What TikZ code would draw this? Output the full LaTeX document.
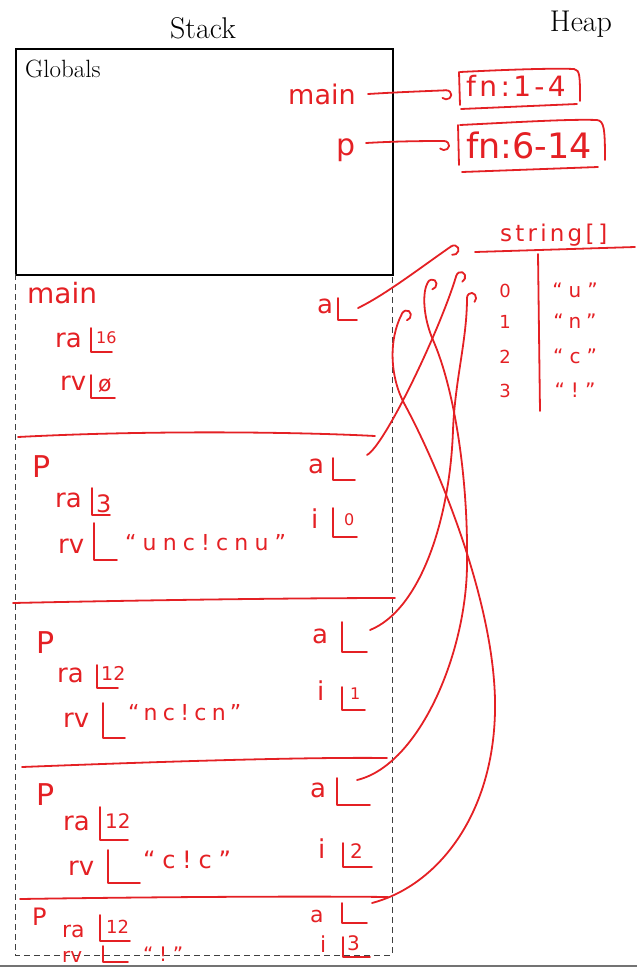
\documentclass[tikz,border=0pt]{standalone}
\usepackage{fontspec}
\newfontfamily\hand{DejaVu Sans}
\usetikzlibrary{arrows.meta}
\definecolor{hred}{RGB}{228,32,36}
\newcommand\hsz[1]{\fontsize{#1}{#1}\selectfont}
\newcommand\hsp[1]{\addfontfeature{LetterSpace=#1}}
\newcommand\slotL[4]{\draw[hand] (#1,#2) -- (#1,#3) -- (#4,#3);}
\tikzset{
  hand/.style={draw=hred, line width=1.8pt, line cap=round, line join=round},
  ht/.style={text=hred, font=\hand, inner sep=0pt, anchor=base west},
  conn/.style={hand, -{Hooks[right, arc=230, length=6pt, width=20pt, round]}},
  btxt/.style={inner sep=0pt, text=black},
}
\begin{document}
\begin{tikzpicture}[x=1pt,y=-1pt]
\useasboundingbox (0,0) rectangle (637,967);
\begin{scope}
\clip (0,0) rectangle (637,965);
% ---- black frame
\node[btxt, anchor=base] (stack) at (203,38) {\fontsize{30}{36}\selectfont Stack};
\node[btxt, anchor=base] (heap) at (581,31) {\fontsize{30}{36}\selectfont Heap};
\node[draw, line width=1.6pt, minimum width=377pt, minimum height=226pt, anchor=north west, inner sep=0pt] (globals) at (15,48) {};
\node[btxt, anchor=base west] (glab) at (25,77) {\fontsize{25}{30}\selectfont Globals};
\draw[black!75, line width=0.9pt, dash pattern=on 6pt off 4pt] (15,274) -- (15,955) -- (392,955) -- (392,274);

% ---- globals content
\node[ht] (gmain) at (288,104) {\hsz{27}main};
\node[ht] (gp) at (336,155) {\hsz{30}p};
\node[ht] (fn1) at (466,96) {\hsz{28}\hsp{12}fn:1-4};
\node[ht] (fn2) at (466,158) {\hsz{35}fn:6-14};
\coordinate (gmainE) at (368,94);
\coordinate (fn1W) at (452,90);
\coordinate (gpE) at (366,143);
\coordinate (fn2W) at (450,141);
\draw[conn] (gmainE) .. controls (400,92) and (430,91) .. (fn1W);
\draw[conn] (gpE) .. controls (400,141) and (430,141) .. (fn2W);
% boxes
\draw[hand] (459,72) -- (460,105);
\draw[hand] (460,72) .. controls (500,70) and (550,68) .. (574,69) .. controls (580,70) and (580,76) .. (580,101);
\draw[hand] (461,109) -- (577,104);
\draw[hand] (458,125) -- (459,165);
\draw[hand] (460,125) .. controls (520,122) and (570,119) .. (597,120) .. controls (604,121) and (605,128) .. (605,160);
\draw[hand] (462,172) -- (598,167);

% ---- heap array
\node[ht] (strarr) at (500,241) {\hsz{23}\hsp{14}string[\,]};
\draw[hand] (475,252) -- (635,247);
\draw[hand] (538,254) -- (540,411);
\node[ht, anchor=base] (i0) at (505,297) {\hsz{18}0};
\node[ht, anchor=base] (i1) at (505,328) {\hsz{18}1};
\node[ht, anchor=base] (i2) at (505,363) {\hsz{18}2};
\node[ht, anchor=base] (i3) at (505,397) {\hsz{18}3};
\node[ht, anchor=base] (v0) at (575,297) {\hsz{20}\hsp{30}“u”};
\node[ht, anchor=base] (v1) at (575,328) {\hsz{20}\hsp{30}“n”};
\node[ht, anchor=base] (v2) at (575,363) {\hsz{20}\hsp{30}“c”};
\node[ht, anchor=base] (v3) at (575,397) {\hsz{20}\hsp{30}“!”};
\coordinate (arr) at (456,243);
\coordinate (arr1) at (458,270);
\coordinate (arr2) at (467,292);
\coordinate (arr3) at (431,277);
\coordinate (arr4) at (405,308);

% ---- frame main
\node[ht] (fmain) at (27,303) {\hsz{28}main};
\node[ht] (ma) at (317,313) {\hsz{26}a};
\slotL{338}{298}{320}{357}
\node[ht] (mra) at (55,347) {\hsz{26}ra};
\slotL{91}{328}{352}{112}
\node[ht] (mrav) at (96,343) {\hsz{16}16};
\node[ht] (mrv) at (60,390) {\hsz{26}rv};
\slotL{91}{375}{398}{115}
\node[ht] (mrvv) at (98,391) {\hsz{22}ø};
\coordinate (maE) at (358,308);
\draw[conn] (maE) .. controls (385,295) and (420,268) .. (arr);
\draw[hand] (18,437) .. controls (150,430) and (300,432) .. (375,436);

% ---- frame p1
\node[ht] (p1) at (32,477) {\hsz{30}P};
\node[ht] (p1a) at (308,473) {\hsz{26}a};
\slotL{333}{458}{480}{355}
\node[ht] (p1ra) at (55,507) {\hsz{26}ra};
\slotL{92}{488}{515}{110}
\node[ht] (p1rav) at (96,512) {\hsz{24}3};
\node[ht] (p1rv) at (58,553) {\hsz{26}rv};
\slotL{94}{523}{560}{117}
\node[ht] (p1rvv) at (125,550) {\hsz{22}\hsp{28}“unc!cnu”};
\node[ht] (p1i) at (311,528) {\hsz{26}i};
\slotL{333}{508}{537}{357}
\node[ht] (p1iv) at (344,525) {\hsz{16}0};
\coordinate (p1aE) at (367,455);
\draw[conn] (p1aE) .. controls (385,445) and (440,330) .. (arr1);
\draw[hand] (13,603) .. controls (150,600) and (300,598) .. (395,598);

% ---- frame p2
\node[ht] (p2) at (36,653) {\hsz{30}P};
\node[ht] (p2a) at (312,643) {\hsz{26}a};
\slotL{342}{622}{652}{367}
\node[ht] (p2ra) at (57,682) {\hsz{26}ra};
\slotL{97}{665}{688}{118}
\node[ht] (p2rav) at (101,680) {\hsz{19}12};
\node[ht] (p2i) at (317,700) {\hsz{26}i};
\slotL{342}{687}{710}{365}
\node[ht] (p2iv) at (350,699) {\hsz{16}1};
\node[ht] (p2rv) at (63,727) {\hsz{26}rv};
\slotL{103}{703}{738}{125}
\node[ht] (p2rvv) at (128,720) {\hsz{22}\hsp{24}“nc!cn”};
\coordinate (p2aE) at (370,630);
\draw[conn] (p2aE) .. controls (420,610) and (450,520) .. (453,430) .. controls (455,380) and (467,340) .. (arr2);
\draw[hand] (22,767) .. controls (150,762) and (300,757) .. (387,758);

% ---- frame p3
\node[ht] (p3) at (36,805) {\hsz{30}P};
\node[ht] (p3a) at (310,797) {\hsz{26}a};
\slotL{337}{778}{805}{370}
\node[ht] (p3ra) at (63,830) {\hsz{26}ra};
\slotL{100}{807}{840}{128}
\node[ht] (p3rav) at (105,828) {\hsz{20}12};
\node[ht] (p3i) at (318,858) {\hsz{26}i};
\slotL{343}{843}{867}{372}
\node[ht] (p3iv) at (350,858) {\hsz{20}2};
\node[ht] (p3rv) at (68,875) {\hsz{26}rv};
\slotL{108}{850}{883}{140}
\node[ht] (p3rvv) at (143,868) {\hsz{24}\hsp{28}“c!c”};
\coordinate (p3aE) at (357,780);
\draw[conn] (p3aE) .. controls (420,765) and (468,650) .. (467,560) .. controls (468,480) and (455,390) .. (433,340) .. controls (423,317) and (422,292) .. (arr3);
\draw[hand] (20,899) .. controls (150,897) and (300,896) .. (388,897);

% ---- frame p4
\node[ht] (p4) at (32,925) {\hsz{24}P};
\node[ht] (p4a) at (310,922) {\hsz{22}a};
\slotL{342}{903}{923}{367}
\node[ht] (p4ra) at (62,937) {\hsz{22}ra};
\slotL{100}{915}{941}{130}
\node[ht] (p4rav) at (106,933) {\hsz{18}12};
\node[ht] (p4i) at (320,952) {\hsz{22}i};
\slotL{343}{937}{957}{370}
\node[ht] (p4iv) at (347,950) {\hsz{20}3};
\node[ht] (p4rv) at (62,962) {\hsz{20}rv};
\slotL{103}{946}{962}{128}
\node[ht] (p4rvv) at (143,961) {\hsz{20}\hsp{28}“!”};
\coordinate (p4aE) at (372,903);
\draw[conn] (p4aE) .. controls (440,885) and (497,810) .. (495,700) .. controls (493,600) and (440,470) .. (405,405) .. controls (390,378) and (388,340) .. (arr4);
\end{scope}
\draw[black!55, line width=2pt] (0,966) -- (637,966);
\end{tikzpicture}
\end{document}
